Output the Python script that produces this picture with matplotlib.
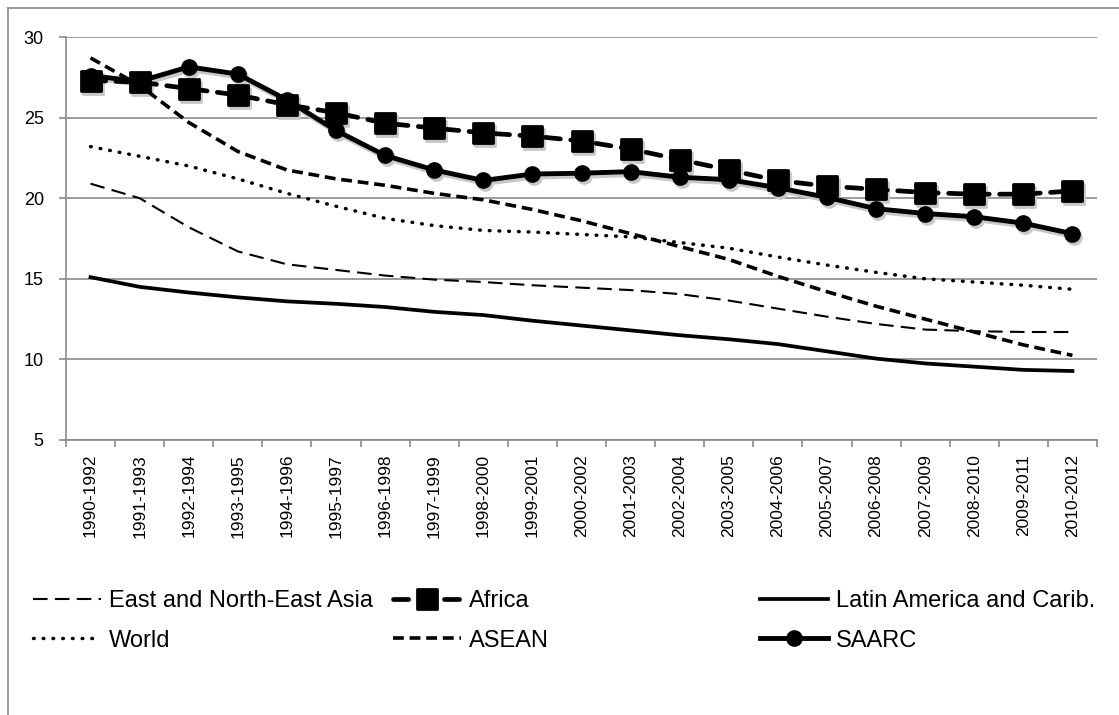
import numpy as np
import matplotlib
matplotlib.use('Agg')
import matplotlib.pyplot as plt
from matplotlib import transforms
from matplotlib.markers import MarkerStyle
from matplotlib.lines import Line2D

plt.rcParams['font.family'] = ['Liberation Sans', 'DejaVu Sans']

periods = ['1990-1992', '1991-1993', '1992-1994', '1993-1995', '1994-1996',
           '1995-1997', '1996-1998', '1997-1999', '1998-2000', '1999-2001',
           '2000-2002', '2001-2003', '2002-2004', '2003-2005', '2004-2006',
           '2005-2007', '2006-2008', '2007-2009', '2008-2010', '2009-2011',
           '2010-2012']

east_asia = [20.9, 20.0, 18.2, 16.7, 15.9, 15.55, 15.2, 14.95, 14.8, 14.6, 14.45,
             14.3, 14.05, 13.65, 13.15, 12.65, 12.2, 11.85, 11.75, 11.7, 11.7]
africa = [27.3, 27.2, 26.8, 26.4, 25.8, 25.3, 24.65, 24.35, 24.05, 23.85, 23.55,
          23.05, 22.4, 21.75, 21.1, 20.75, 20.55, 20.35, 20.25, 20.25, 20.45]
latin = [15.1, 14.5, 14.15, 13.85, 13.6, 13.45, 13.25, 12.95, 12.75, 12.4, 12.1,
         11.8, 11.5, 11.25, 10.95, 10.5, 10.05, 9.75, 9.55, 9.35, 9.28]
world = [23.2, 22.6, 22.0, 21.2, 20.3, 19.5, 18.75, 18.3, 18.0, 17.9, 17.75,
         17.6, 17.25, 16.9, 16.35, 15.85, 15.4, 15.0, 14.8, 14.6, 14.35]
asean = [28.7, 27.0, 24.7, 22.9, 21.75, 21.2, 20.8, 20.3, 19.9, 19.3, 18.6,
         17.8, 17.0, 16.2, 15.15, 14.2, 13.3, 12.5, 11.7, 10.9, 10.25]
saarc = [27.6, 27.25, 28.15, 27.7, 26.1, 24.2, 22.65, 21.75, 21.1, 21.5, 21.55,
         21.65, 21.3, 21.15, 20.65, 20.05, 19.35, 19.05, 18.85, 18.45, 17.8]

W, H = 1119, 715
fig = plt.figure(figsize=(W / 100, H / 100), dpi=100)
ax = fig.add_axes([66 / W, 1 - 440 / H, 1031 / W, 403 / H])

grey = '#8a8a8a'
x = np.arange(len(periods))

# outer chart frame (top and left edges only)
fig.add_artist(Line2D([7.5 / W, 1.0], [1 - 7.5 / H] * 2, color=grey, lw=1.2))
fig.add_artist(Line2D([7.5 / W] * 2, [0.0, 1 - 7.5 / H], color=grey, lw=1.2))

square = MarkerStyle('s', joinstyle='round')
shadow = transforms.offset_copy(ax.transData, fig=fig, x=2, y=-3, units='dots')

# soft shadows under the marker series
ax.plot(x, africa, color='#c8c8c8', lw=3.2, marker=square, ms=14, mew=2,
        linestyle='none', transform=shadow, zorder=2)
ax.plot(x, saarc, color='#c8c8c8', lw=3.5, marker='o', ms=11, transform=shadow, zorder=2)

h_ea, = ax.plot(x, east_asia, color='black', lw=1.5, linestyle=(0, (7, 3.5)),
                label='East and North-East Asia', zorder=3)
h_lat, = ax.plot(x, latin, color='black', lw=2.7, label='Latin America and Carib.', zorder=3)
h_w, = ax.plot(x, world, color='black', lw=2.5, linestyle=(0, (0.2, 2.6)),
               dash_capstyle='round', label='World', zorder=3)
h_as, = ax.plot(x, asean, color='black', lw=2.6, linestyle=(0, (3, 1.6)),
                label='ASEAN', zorder=3)
h_sa, = ax.plot(x, saarc, color='black', lw=3.5, marker='o', ms=11,
                label='SAARC', zorder=4)
h_af, = ax.plot(x, africa, color='black', lw=3.4, linestyle=(0, (3.2, 2.2)),
                dash_capstyle='round', marker=square, ms=14, mew=2,
                label='Africa', zorder=5)

ax.set_xlim(-0.5, len(periods) - 0.5)
ax.set_ylim(5, 30)
ax.set_yticks([5, 10, 15, 20, 25, 30])
ax.set_xticks(x)
ax.set_xticklabels(periods, rotation=90, fontsize=12.5)
ax.set_xticks(np.arange(-0.5, len(periods)), minor=True)
ax.tick_params(axis='x', which='major', length=0, pad=10)
ax.tick_params(axis='x', which='minor', length=5, color=grey, width=1.2)
ax.tick_params(axis='y', length=5, color=grey, width=1.2, pad=11, labelsize=13)

ax.yaxis.grid(True, color=grey, lw=1.2)
ax.set_axisbelow(True)
for side in ['top', 'right']:
    ax.spines[side].set_visible(False)
for side in ['left', 'bottom']:
    ax.spines[side].set_color(grey)
    ax.spines[side].set_linewidth(1.2)

columns = [([h_ea, h_w], 33), ([h_af, h_as], 393), ([h_lat, h_sa], 760)]
for handles, left in columns:
    leg = fig.legend(handles=handles, loc='upper left',
                     bbox_to_anchor=(left / W, 1 - 590 / H), frameon=False,
                     fontsize=17, handlelength=2.9, handletextpad=0.3,
                     labelspacing=0.75, borderpad=0, borderaxespad=0,
                     numpoints=1)

fig.savefig('out.png', dpi=100)
